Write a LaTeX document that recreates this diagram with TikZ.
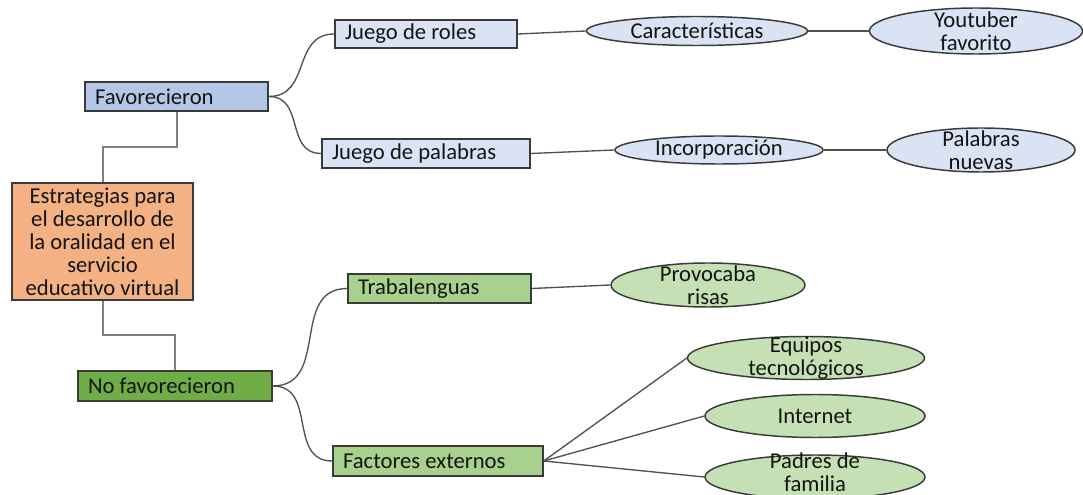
\documentclass[tikz,border=0pt]{standalone}
\usepackage{fontspec}
\setmainfont{Carlito}
\usetikzlibrary{shapes.geometric,calc}
\definecolor{favblue}{HTML}{B4C7E7}
\definecolor{estrc}{HTML}{F4B183}
\definecolor{nofgreen}{HTML}{70AD47}
\definecolor{lblue}{HTML}{DAE3F3}
\definecolor{tgreen}{HTML}{A9D18E}
\definecolor{egreen}{HTML}{C5E0B4}
\definecolor{boxline}{HTML}{3A3A3A}
\definecolor{linkc}{HTML}{505050}
\definecolor{elbowc}{HTML}{7F7F7F}
\definecolor{txt}{HTML}{141414}
\newcommand{\lft}[2]{\makebox[#1][l]{#2}}
\begin{document}
\begin{tikzpicture}[x=0.75pt,y=-0.75pt,
  font=\fontsize{17}{17.25}\selectfont,
  box/.style={draw=boxline, line width=1.1pt, rectangle, inner xsep=7.5pt, inner ysep=0pt, text=txt},
  ell/.style={draw=boxline, line width=1.1pt, ellipse, inner sep=0pt},
  lbl/.style={align=center, text=txt, inner sep=0pt},
  link/.style={draw=linkc, line width=1pt},
  elbow/.style={draw=elbowc, line width=1.5pt},
  curvy/.style={draw=linkc, line width=1pt, out=0, in=180, looseness=1.2}]
\useasboundingbox (0,0) rectangle (1083,495);
% left column
\node[box, fill=favblue, minimum height=21.75pt] (fav) at (176.5,96.5) {\lft{122.25pt}{Favorecieron}};
\node[box, fill=estrc, align=center, minimum height=87.75pt, minimum width=135.75pt] (estr) at (102.5,241.5) {Estrategias para\\el desarrollo de\\la oralidad en el\\servicio\\educativo virtual};
\node[box, fill=nofgreen, minimum height=22.5pt] (nof) at (175,386) {\lft{130.5pt}{No favorecieron}};
% second column
\node[box, fill=lblue, minimum height=21pt] (jr) at (426,34) {\lft{121.5pt}{Juego de roles}};
\node[box, fill=lblue, minimum height=21.75pt] (jp) at (426,153.5) {\lft{141pt}{Juego de palabras}};
\node[box, fill=tgreen, minimum height=21.75pt] (tra) at (439.5,288.5) {\lft{122.25pt}{Trabalenguas}};
\node[box, fill=tgreen, minimum height=22.5pt] (fac) at (438,461) {\lft{142.5pt}{Factores externos}};
% ellipses
\node[ell, fill=lblue, minimum width=165.75pt, minimum height=21.75pt, label={[lbl]center:Características}] (car) at (697,31) {};
\node[ell, fill=lblue, minimum width=159.75pt, minimum height=34.5pt, label={[lbl]center:Youtuber\\favorito}] (you) at (976,31) {};
\node[ell, fill=lblue, minimum width=156pt, minimum height=21pt, label={[lbl]center:Incorporación}] (inc) at (719,150) {};
\node[ell, fill=lblue, minimum width=141pt, minimum height=33pt, label={[lbl]center:Palabras\\nuevas}] (pal) at (981,150) {};
\node[ell, fill=egreen, minimum width=145.5pt, minimum height=33pt, label={[lbl]center:Provocaba\\risas}] (pro) at (708,285) {};
\node[ell, fill=egreen, minimum width=177.75pt, minimum height=32.25pt, label={[lbl]center:Equipos\\tecnológicos}] (equ) at (806,358) {};
\node[ell, fill=egreen, minimum width=165pt, minimum height=32.25pt, label={[lbl]center:Internet}] (int) at (815,416) {};
\node[ell, fill=egreen, minimum width=165pt, minimum height=33pt, label={[lbl,yshift=3.5pt]center:Padres de\\familia}] (pad) at (815,477) {};
% elbow connectors
\draw[elbow] (fav.south) |- ($(fav.south)!.5!(estr.north)$) -| (estr.north);
\draw[elbow] (estr.south) |- ($(estr.south)!.5!(nof.north)$) -| (nof.north);
% curved connectors
\draw[curvy] (fav.east) to (jr.west);
\draw[curvy] (fav.east) to (jp.west);
\draw[curvy] (nof.east) to (tra.west);
\draw[curvy] (nof.east) to (fac.west);
% straight links
\draw[link] (jr.east) -- (car.west);
\draw[link] (car.east) -- (you.west);
\draw[link] (jp.east) -- (inc.west);
\draw[link] (inc.east) -- (pal.west);
\draw[link] (tra.east) -- (pro.west);
\draw[link] (fac.east) -- (equ.west);
\draw[link] (fac.east) -- (int.west);
\draw[link] (fac.east) -- (pad.west);
\end{tikzpicture}
\end{document}
